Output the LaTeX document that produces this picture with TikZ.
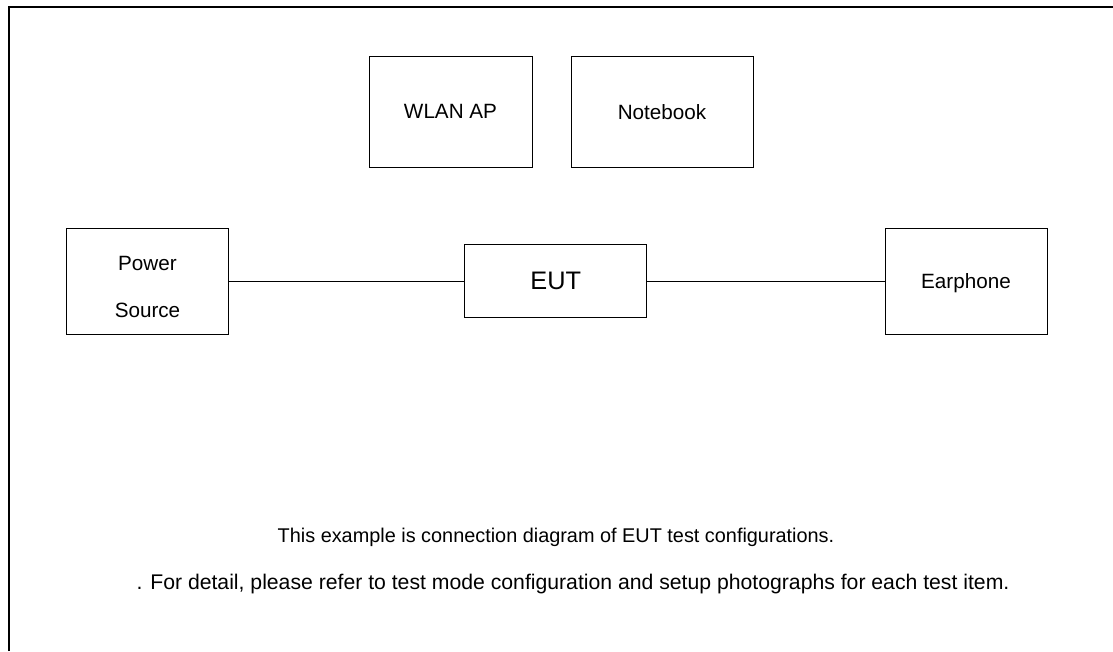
\documentclass[tikz,border=0pt]{standalone}
\usepackage{fontspec}
\setmainfont{Liberation Sans}
\begin{document}
\begin{tikzpicture}[x=0.75pt,y=-0.75pt,
  box/.style={draw,line width=0.75pt,inner sep=0pt,outer sep=0pt,
    font=\fontsize{15.5}{18}\selectfont},
  note/.style={inner sep=0pt,font=\fontsize{14.9}{18}\selectfont}]
\useasboundingbox (0,0) rectangle (1113,651);
\draw[line width=1.5pt] (9,651) -- (9,6.5) -- (1113,6.5);
\node[box,minimum width=122.25pt,minimum height=83.25pt] (wlan) at (450.5,111.5) {WLAN AP};
\node[box,minimum width=136.5pt,minimum height=83.25pt] (notebook) at (662,112) {Notebook};
\node[box,minimum width=121.5pt,minimum height=79.5pt,
  label={[yshift=-4.5pt,align=center,font=\fontsize{15.5}{35}\selectfont]center:Power\\Source}] (power) at (147.5,281) {};
\node[box,minimum width=136.5pt,minimum height=54.75pt,
  font=\fontsize{19}{22}\selectfont] (eut) at (555.7,281) {EUT};
\node[box,minimum width=121.5pt,minimum height=79.5pt,text depth=0pt] (earphone) at (966,281) {Earphone};
\draw[line width=0.75pt] (power) -- (eut);
\draw[line width=0.75pt] (eut) -- (earphone);
\node[note] (line1) at (556,537) {This example is connection diagram of EUT test configurations.};
\node[note,font=\fontsize{15.9}{18}\selectfont] (line2) at (573,584) {. For detail, please refer to test mode configuration and setup photographs for each test item.};
\end{tikzpicture}
\end{document}
